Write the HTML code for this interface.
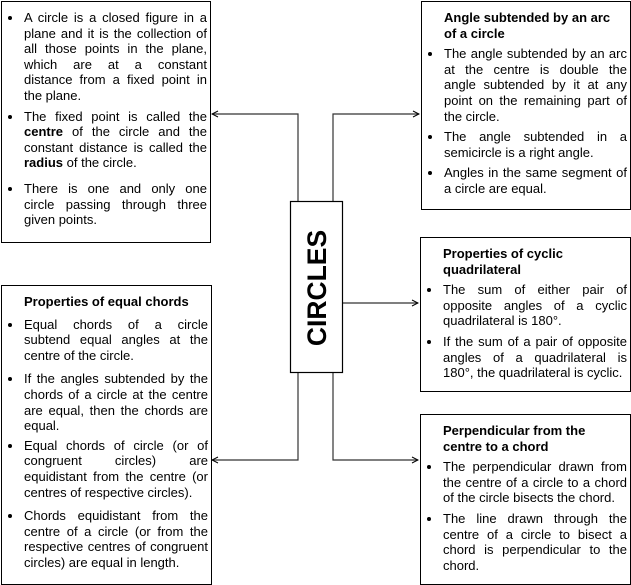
<!DOCTYPE html>
<html><head><style>
body{margin:0;width:631px;height:585px;background:#fff;position:relative;font-family:"Liberation Sans",Arial,sans-serif;font-size:13px;line-height:15.6px;color:#000;overflow:hidden}
.box{position:absolute;border:1.3px solid #000;box-sizing:border-box;background:#fff}
.box ul{margin:0;padding:0;list-style:none}
.box li{position:relative;padding-left:21px;text-align:justify;margin-bottom:5px}
.box li:before{content:"";position:absolute;left:5px;top:6px;width:4px;height:4px;border-radius:50%;background:#000}
.t{font-weight:bold;padding-left:21px;margin-bottom:5px}
svg{position:absolute;left:0;top:0}
</style></head><body>
<svg width="631" height="585">
<defs><marker id="a" markerWidth="8" markerHeight="8" refX="7" refY="4" orient="auto" markerUnits="userSpaceOnUse"><path d="M1,1 L7,4 L1,7" fill="none" stroke="#000" stroke-width="1"/></marker></defs>
<g stroke="#333" stroke-width="1.2" fill="none">
<polyline points="298,201 298,114 212,114" marker-end="url(#a)"/>
<polyline points="333,201 333,114 419,114" marker-end="url(#a)"/>
<polyline points="342,303 418,303" marker-end="url(#a)"/>
<polyline points="298,372 298,460 212,460" marker-end="url(#a)"/>
<polyline points="333,372 333,460 418,460" marker-end="url(#a)"/>
</g>
<rect x="290.5" y="201.5" width="52" height="171" fill="#fff" stroke="#000" stroke-width="1.2"/>
<text x="0" y="0" transform="translate(326,288) rotate(-90)" text-anchor="middle" font-family="Liberation Sans, Arial, sans-serif" font-weight="bold" font-size="26.5">CIRCLES</text>
</svg>

<div class="box" style="left:1px;top:1px;width:210px;height:242px;padding:8px 3px 0 1px">
<ul>
<li>A circle is a closed figure in a plane and it is the collection of all those points in the plane, which are at a constant distance from a fixed point in the plane.</li>
<li>The fixed point is called the <b>centre</b> of the circle and the constant distance is called the <b>radius</b> of the circle.</li>
<li style="margin-top:10px">There is one and only one circle passing through three given points.</li>
</ul></div>

<div class="box" style="left:421px;top:1px;width:210px;height:209px;padding:8px 3px 0 1px">
<div class="t" style="padding-right:14px">Angle subtended by an arc of a circle</div>
<ul>
<li style="margin-top:3px">The angle subtended by an arc at the centre is double the angle subtended by it at any point on the remaining part of the circle.</li>
<li>The angle subtended in a semicircle is a right angle.</li>
<li>Angles in the same segment of a circle are equal.</li>
</ul></div>

<div class="box" style="left:420px;top:237px;width:211px;height:155px;padding:8px 3px 0 1px">
<div class="t">Properties of cyclic quadrilateral</div>
<ul>
<li>The sum of either pair of opposite angles of a cyclic quadrilateral is 180°.</li>
<li>If the sum of a pair of opposite angles of a quadrilateral is 180°, the quadrilateral is cyclic.</li>
</ul></div>

<div class="box" style="left:420px;top:414px;width:211px;height:171px;padding:8px 3px 0 1px">
<div class="t">Perpendicular from the centre to a chord</div>
<ul>
<li>The perpendicular drawn from the centre of a circle to a chord of the circle bisects the chord.</li>
<li>The line drawn through the centre of a circle to bisect a chord is perpendicular to the chord.</li>
</ul></div>

<div class="box" style="left:1px;top:285px;width:211px;height:300px;padding:8px 3px 0 1px">
<div class="t" style="margin-bottom:7px">Properties of equal chords</div>
<ul>
<li style="margin-bottom:8px">Equal chords of a circle subtend equal angles at the centre of the circle.</li>
<li style="margin-bottom:4px">If the angles subtended by the chords of a circle at the centre are equal, then the chords are equal.</li>
<li style="margin-bottom:8px">Equal chords of circle (or of congruent circles) are equidistant from the centre (or centres of respective circles).</li>
<li>Chords equidistant from the centre of a circle (or from the respective centres of congruent circles) are equal in length.</li>
</ul></div>
</body></html>
